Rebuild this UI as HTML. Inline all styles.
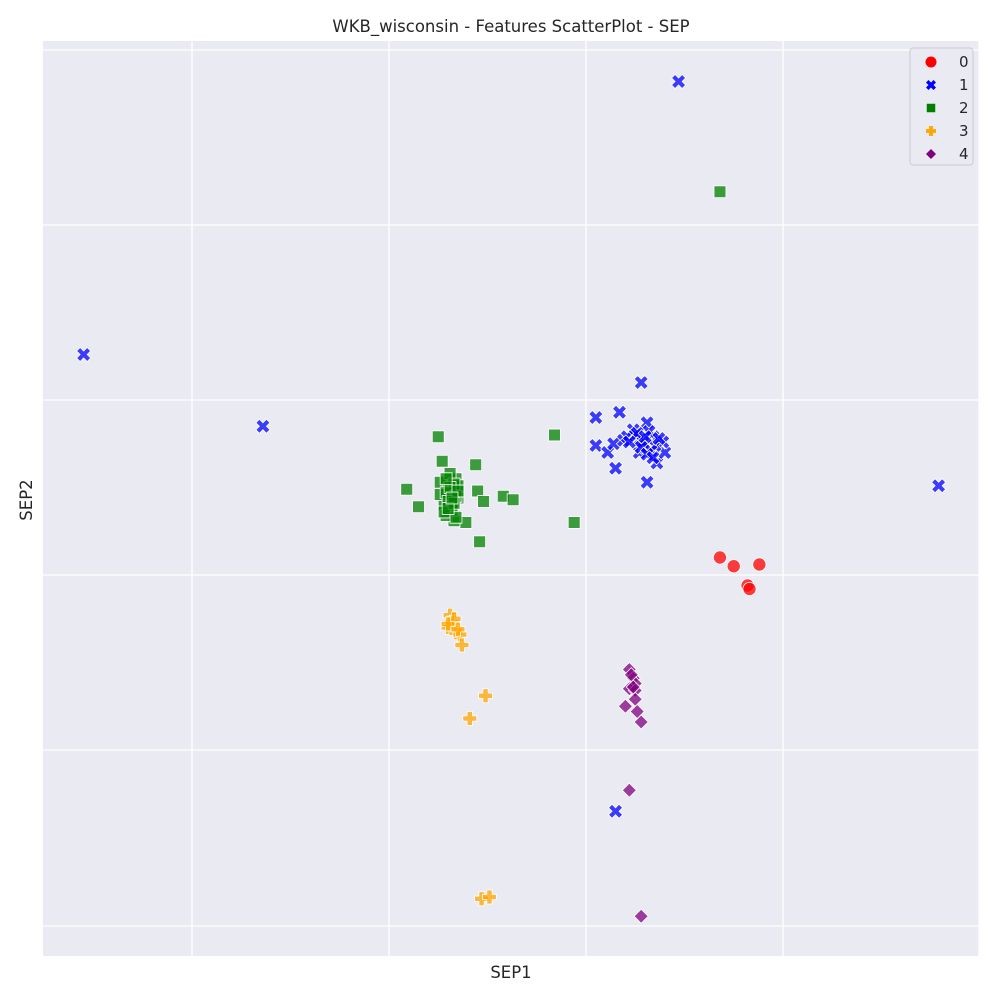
<!DOCTYPE html>
<html><head><meta charset="utf-8"><style>
body{margin:0;background:#fff;font-family:"DejaVu Sans","Liberation Sans",sans-serif;}
svg{display:block}
</style></head><body>
<svg id="chart" width="1000" height="1000" xmlns="http://www.w3.org/2000/svg">
<rect width="1000" height="1000" fill="#fff"/>
<rect x="43" y="41" width="936" height="915" fill="#eaeaf2"/>
<g id="grid"></g>
<g id="marks"></g>
<text x="511" y="32" font-size="16.5" text-anchor="middle" fill="#262626">WKB_wisconsin - Features ScatterPlot - SEP</text>
<text x="511" y="978" font-size="16.5" text-anchor="middle" fill="#262626">SEP1</text>
<text x="32" y="500" font-size="16.5" text-anchor="middle" fill="#262626" transform="rotate(-90 32 500)">SEP2</text>
<g id="legend"><rect x="910" y="48" width="63" height="117" rx="3" fill="#eaeaf2" stroke="#cccccc" stroke-width="1"/></g>
</svg>
<script>
const xTicks=[0,1,2,3];
const yTickVals=[3,2,1,0,-1,-2];
const x0=[2.68,2.75,2.88,2.82,2.83];
const y0=[0.10,0.05,0.06,-0.06,-0.08];
const x1=[2.47,-0.55,0.36,2.28,3.79,2.15,2.05,2.17,2.05,2.11,2.15,2.31,2.14,2.19,2.24,2.31,2.27,2.36,2.40,2.39,2.34,2.21,2.27,2.30,2.35,2.32,2.25,2.29,2.33,2.37,2.28,2.31,2.26,2.34,2.22,2.30];
const y1=[2.82,1.26,0.85,1.10,0.51,-1.35,0.90,0.93,0.74,0.70,0.61,0.53,0.75,0.77,0.83,0.87,0.70,0.64,0.70,0.76,0.79,0.79,0.77,0.73,0.74,0.82,0.80,0.76,0.71,0.78,0.73,0.69,0.81,0.67,0.76,0.79];
const x2=[2.68,1.25,1.84,1.44,1.27,1.09,1.15,1.45,1.58,1.63,1.48,1.94,1.46,1.39,1.33,1.26,1.30,1.34,1.28,1.32,1.35,1.29,1.26,1.35,1.31,1.33,1.29,1.34,1.30,1.32,1.28,1.34,1.31,1.33,1.30,1.29,1.35,1.32];
const y2=[2.19,0.79,0.80,0.63,0.65,0.49,0.39,0.48,0.45,0.43,0.42,0.30,0.19,0.30,0.31,0.53,0.49,0.55,0.40,0.37,0.44,0.34,0.46,0.51,0.58,0.52,0.47,0.45,0.42,0.39,0.36,0.33,0.50,0.41,0.38,0.55,0.48,0.44];
const x3=[1.31,1.32,1.30,1.34,1.36,1.37,1.49,1.41,1.47,1.51,1.33,1.30,1.35];
const y3=[-0.23,-0.27,-0.30,-0.33,-0.34,-0.40,-0.69,-0.82,-1.85,-1.84,-0.25,-0.28,-0.31];
const x4=[2.22,2.24,2.25,2.22,2.25,2.25,2.20,2.26,2.28,2.22,2.28,2.23,2.24];
const y4=[-0.54,-0.59,-0.62,-0.65,-0.66,-0.71,-0.75,-0.78,-0.84,-1.23,-1.95,-0.57,-0.64];
const classes=["0","1","2","3","4"];
const colors=["red","blue","green","orange","purple"];
const xs=v=>192+v*197;
const ys=v=>575-v*175;
const NS="http://www.w3.org/2000/svg";
const grid=document.getElementById('grid');
function line(a,b,c,d){const l=document.createElementNS(NS,'line');l.setAttribute('x1',a);l.setAttribute('y1',b);l.setAttribute('x2',c);l.setAttribute('y2',d);l.setAttribute('stroke','#fff');l.setAttribute('stroke-width','1.3');return l;}
xTicks.forEach(t=>{const l=line(xs(t),41,xs(t),956);


grid.appendChild(l);});
{const l=line(979,41,979,956);


grid.appendChild(l);}
yTickVals.forEach(t=>{const yy=(t===3)?50:(t===-2?926:ys(t));const l=line(43,yy,979,yy);


grid.appendChild(l);});
function marker(k,cx,cy,s){
  let el;
  if(k===0){el=document.createElementNS(NS,'circle');el.setAttribute('cx',cx);el.setAttribute('cy',cy);el.setAttribute('r',s*0.55);}
  else{
    el=document.createElementNS(NS,'path');let d;const h=s/2;
    if(k===1){const a=h*0.5;d=`M${cx-h},${cy-h+a}L${cx-h+a},${cy-h}L${cx},${cy-a}L${cx+h-a},${cy-h}L${cx+h},${cy-h+a}L${cx+a},${cy}L${cx+h},${cy+h-a}L${cx+h-a},${cy+h}L${cx},${cy+a}L${cx-h+a},${cy+h}L${cx-h},${cy+h-a}L${cx-a},${cy}Z`;}
    else if(k===2){d=`M${cx-h*0.85},${cy-h*0.85}h${h*1.7}v${h*1.7}h${-h*1.7}Z`;}
    else if(k===3){const a=h*0.38;d=`M${cx-a},${cy-h}h${2*a}v${h-a}h${h-a}v${2*a}h${a-h}v${h-a}h${-2*a}v${a-h}h${a-h}v${-2*a}h${h-a}Z`;}
    else{d=`M${cx},${cy-h}L${cx+h},${cy}L${cx},${cy+h}L${cx-h},${cy}Z`;}
    el.setAttribute('d',d);
  }
  el.setAttribute('fill',colors[k]);
  return el;
}
const marks=document.getElementById('marks');
const sets=[[x0,y0],[x1,y1],[x2,y2],[x3,y3],[x4,y4]];
sets.forEach((s,k)=>{
  s[0].forEach((xv,i)=>{
    const m=marker(k,xs(xv),ys(s[1][i]),k===0?12:14);
    m.setAttribute('fill-opacity','0.75');m.setAttribute('stroke','#fff');m.setAttribute('stroke-width','0.8');
    
    
    marks.appendChild(m);
  });
});
const legend=document.getElementById('legend');
classes.forEach((c,k)=>{
  const y=61+k*23;
  const m=marker(k,931,y+1,10);
  
  
  legend.appendChild(m);
  const t=document.createElementNS(NS,'text');t.setAttribute('x',959);t.setAttribute('y',y+6);t.setAttribute('font-size','15');t.setAttribute('fill','#262626');t.textContent=c;
  
  
  legend.appendChild(t);
});
</script>
</body></html>
